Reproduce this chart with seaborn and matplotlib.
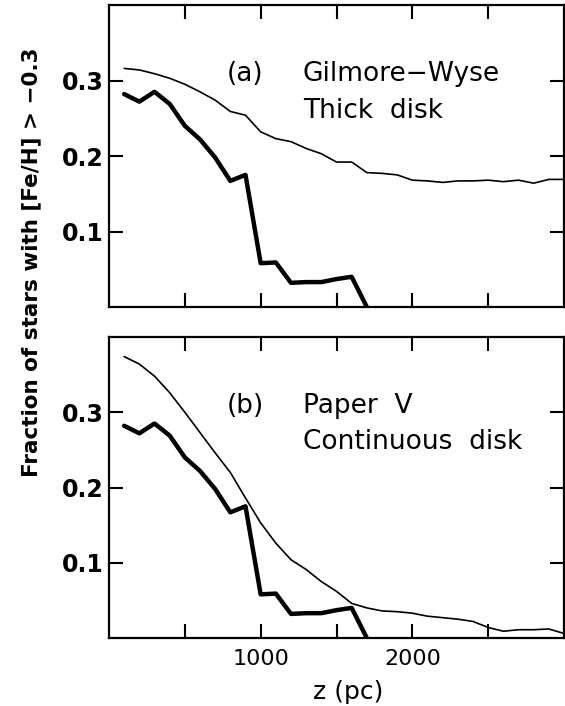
import numpy as np
import pandas as pd
import seaborn as sns
import matplotlib
matplotlib.use("Agg")
import matplotlib.pyplot as plt

sns.set_style("ticks")
plt.rcParams['font.family'] = ['DejaVu Sans']
plt.rcParams['text.color'] = 'black'
plt.rcParams['axes.labelcolor'] = 'black'
plt.rcParams['xtick.color'] = 'black'
plt.rcParams['ytick.color'] = 'black'

# Observed fraction (thick line), same in both panels
z_obs = [100, 200, 300, 400, 500, 600, 700, 800, 900, 1000, 1100, 1200,
         1300, 1400, 1500, 1600, 1700]
frac_obs = [0.282, 0.272, 0.285, 0.269, 0.240, 0.222, 0.198, 0.167, 0.175,
            0.058, 0.059, 0.032, 0.033, 0.033, 0.037, 0.040, 0.0]

# Model curves (thin lines)
z_model = list(range(100, 3001, 100))
frac_gw = [0.316, 0.314, 0.309, 0.303, 0.295, 0.285, 0.274, 0.259, 0.254, 0.232,
           0.223, 0.219, 0.210, 0.203, 0.192, 0.192, 0.178, 0.177, 0.175, 0.168,
           0.167, 0.165, 0.167, 0.167, 0.168, 0.166, 0.168, 0.164, 0.169, 0.169]
frac_pv = [0.374, 0.364, 0.348, 0.326, 0.300, 0.273, 0.246, 0.220, 0.186, 0.153,
           0.126, 0.104, 0.091, 0.075, 0.062, 0.046, 0.040, 0.036, 0.035, 0.033,
           0.029, 0.027, 0.025, 0.022, 0.014, 0.009, 0.011, 0.011, 0.012, 0.006]

x_ticks = [500, 1000, 1500, 2000, 2500]
x_tick_labels = ['', '1000', '', '2000', '']
y_ticks = [0.1, 0.2, 0.3]
y_tick_labels = ['0.1', '0.2', '0.3']

panel_tags = ["(a)", "(b)"]
panel_titles = ["Gilmore\u2212Wyse", "Paper  V"]
panel_sub = ["Thick  disk", "Continuous  disk"]

obs_df = pd.DataFrame({"z": z_obs, "f": frac_obs})
model_dfs = [pd.DataFrame({"z": z_model, "f": frac_gw}),
             pd.DataFrame({"z": z_model, "f": frac_pv})]

W, H = 565, 706
fig = plt.figure(figsize=(W / 100, H / 100), dpi=100)
left = 109 / W
width = (564 - 109) / W
ax1 = fig.add_axes([left, 1 - 307 / H, width, (307 - 5) / H])
ax2 = fig.add_axes([left, 1 - 638 / H, width, (638 - 337) / H])

for i, ax in enumerate([ax1, ax2]):
    sns.lineplot(data=model_dfs[i], x="z", y="f", ax=ax, color="black",
                 linewidth=1.2, estimator=None, sort=False)
    sns.lineplot(data=obs_df, x="z", y="f", ax=ax, color="black",
                 linewidth=3.2, estimator=None, sort=False)
    ax.set_xlim(0, 3000)
    ax.set_ylim(0, 0.4)
    ax.set_xticks(x_ticks)
    ax.set_yticks(y_ticks)
    ax.set_yticklabels(y_tick_labels, fontweight='bold', fontsize=17)
    if i == 1:
        ax.set_xticklabels(x_tick_labels, fontweight='medium', fontsize=16)
    else:
        ax.set_xticklabels([])
    ax.set_xlabel("")
    ax.set_ylabel("")
    ax.tick_params(direction='in', length=10, width=1.5, top=True, right=True)
    ax.tick_params(axis='y', pad=4)
    ax.tick_params(axis='x', pad=8)
    for s in ax.spines.values():
        s.set_linewidth(1.6)
        s.set_color("black")
        s.set_visible(True)
    ax.text(0.259, 0.77, panel_tags[i], transform=ax.transAxes, fontsize=19,
            ha='left', va='center')
    ax.text(0.426, 0.77, panel_titles[i], transform=ax.transAxes, fontsize=19,
            ha='left', va='center')
    ax.text(0.426, 0.65, panel_sub[i], transform=ax.transAxes, fontsize=19,
            ha='left', va='center')

fig.text(348 / W, 1 - 692 / H, "z (pc)", ha='center', va='center', fontsize=18,
         fontweight='medium')
fig.text(31 / W, 1 - 262 / H, "Fraction of stars with [Fe/H] > \u22120.3",
         rotation=90, ha='center', va='center', fontsize=15.5, fontweight='bold')

fig.savefig("out.png", dpi=100)
